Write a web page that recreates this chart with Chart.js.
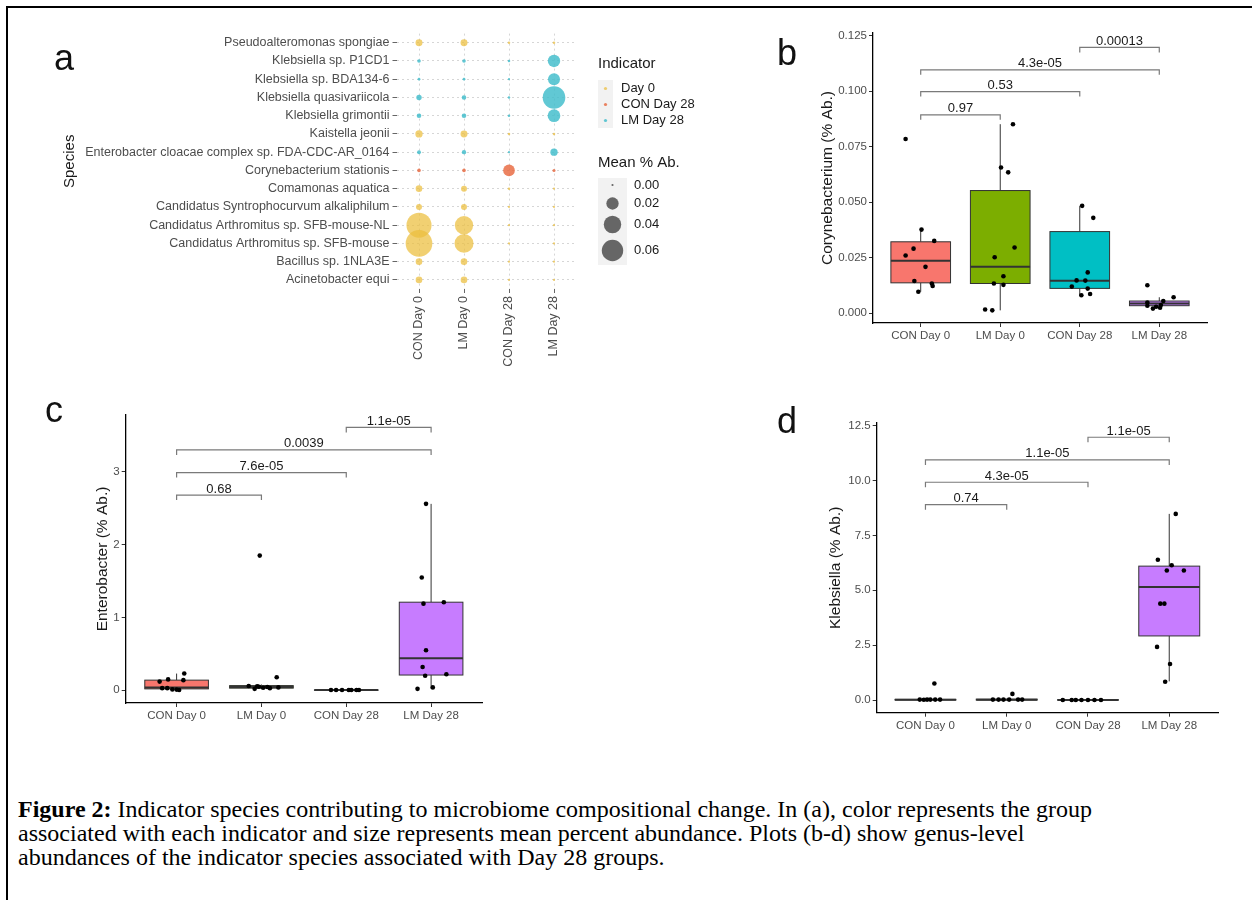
<!DOCTYPE html>
<html>
<head>
<meta charset="utf-8">
<script src="https://cdn.jsdelivr.net/npm/chart.js@4.4.1/dist/chart.umd.min.js"></script>
<style>
  html, body { margin: 0; padding: 0; background: #fff; }
  #page { position: relative; width: 1252px; height: 900px; overflow: hidden; background: #fff; }
  #frame { position: absolute; left: 6px; top: 6px; width: 1250px; height: 900px; border-top: 2px solid #000; border-left: 2px solid #000; }
  .wrap { position: absolute; }
  .tag { position: absolute; font-family: "Liberation Sans", Arial, sans-serif; font-size: 36px; line-height: 1; color: #111; }
  #caption { position: absolute; left: 18px; top: 797px; font-family: "Liberation Serif", "Times New Roman", serif; font-size: 24px; line-height: 24px; color: #000; white-space: nowrap; }
</style>
</head>
<body>
<div id="page">
  <div id="frame"></div>
  <div class="wrap" style="left:10px;top:10px;width:700px;height:370px"><canvas id="chartA"></canvas></div>
  <div class="wrap" style="left:760px;top:15px;width:470px;height:345px"><canvas id="chartB"></canvas></div>
  <div class="wrap" style="left:30px;top:395px;width:470px;height:335px"><canvas id="chartC"></canvas></div>
  <div class="wrap" style="left:760px;top:395px;width:470px;height:345px"><canvas id="chartD"></canvas></div>
  <div class="tag" style="left:54px;top:40px">a</div>
  <div class="tag" style="left:777px;top:35px">b</div>
  <div class="tag" style="left:45px;top:392px">c</div>
  <div class="tag" style="left:777px;top:403px">d</div>
  <div id="caption"><b>Figure 2:</b> Indicator species contributing to microbiome compositional change. In (a), color represents the group<br>associated with each indicator and size represents mean percent abundance. Plots (b-d) show genus-level<br>abundances of the indicator species associated with Day 28 groups.</div>
</div>
<script>
// ---- panel a: indicator species ----
const sampleGroups = ['CON Day 0', 'LM Day 0', 'CON Day 28', 'LM Day 28'];
const species = [
  'Pseudoalteromonas spongiae', 'Klebsiella sp. P1CD1', 'Klebsiella sp. BDA134-6',
  'Klebsiella quasivariicola', 'Klebsiella grimontii', 'Kaistella jeonii',
  'Enterobacter cloacae complex sp. FDA-CDC-AR_0164', 'Corynebacterium stationis',
  'Comamonas aquatica', 'Candidatus Syntrophocurvum alkaliphilum',
  'Candidatus Arthromitus sp. SFB-mouse-NL', 'Candidatus Arthromitus sp. SFB-mouse',
  'Bacillus sp. 1NLA3E', 'Acinetobacter equi'
];
const indicators = ['Day 0', 'CON Day 28', 'LM Day 28'];
const speciesIndicator = ['Day 0', 'LM Day 28', 'LM Day 28', 'LM Day 28', 'LM Day 28', 'Day 0',
  'LM Day 28', 'CON Day 28', 'Day 0', 'Day 0', 'Day 0', 'Day 0', 'Day 0', 'Day 0'];
const abConDay0 = [0.0064, 0.0017, 0.0010, 0.0038, 0.0028, 0.0070, 0.0020, 0.0017, 0.0057, 0.0047, 0.082, 0.093, 0.0057, 0.0057];
const abLmDay0 = [0.0064, 0.0017, 0.0010, 0.0028, 0.0028, 0.0064, 0.0025, 0.0017, 0.0047, 0.0047, 0.044, 0.047, 0.0057, 0.0057];
const abConDay28 = [0.0008, 0.0008, 0.0006, 0.0008, 0.0008, 0.0008, 0.0006, 0.018, 0.0008, 0.0006, 0.0006, 0.0006, 0.0006, 0.0006];
const abLmDay28 = [0.0008, 0.020, 0.019, 0.067, 0.021, 0.0008, 0.0070, 0.0012, 0.0006, 0.0006, 0.0006, 0.0006, 0.0006, 0.0006];
const sizeBreaks = [0.00, 0.02, 0.04, 0.06];

// ---- panels b-d: genus abundance per group ----
const groups = ['CON Day 0', 'LM Day 0', 'CON Day 28', 'LM Day 28'];

const coryValues = [
  [0.0784, 0.0376, 0.0325, 0.0290, 0.0259, 0.0208, 0.0144, 0.0133, 0.0122, 0.0096],
  [0.0851, 0.0656, 0.0634, 0.0295, 0.0251, 0.0166, 0.0133, 0.0127, 0.0016, 0.0012],
  [0.0483, 0.0429, 0.0183, 0.0147, 0.0146, 0.0119, 0.0110, 0.0086, 0.0080],
  [0.0125, 0.0071, 0.0054, 0.0047, 0.0036, 0.0033, 0.0028, 0.0020, 0.0024]
];
const coryJitter = [
  [-0.19, 0.01, 0.17, -0.09, -0.19, 0.06, -0.08, 0.14, 0.15, -0.03],
  [0.16, 0.01, 0.10, 0.18, -0.07, 0.04, -0.08, 0.04, -0.19, -0.10],
  [0.03, 0.17, 0.10, -0.04, 0.07, -0.10, 0.10, 0.13, 0.02],
  [-0.15, 0.18, 0.05, -0.15, 0.02, -0.15, -0.04, -0.08, 0.01]
];
const coryQ1 = [0.0136, 0.0133, 0.0111, 0.0033];
const coryMedian = [0.0235, 0.0208, 0.0145, 0.0043];
const coryQ3 = [0.0321, 0.0552, 0.0367, 0.0054];
const coryLow = [0.0096, 0.0012, 0.0080, 0.0020];
const coryHigh = [0.0376, 0.0851, 0.0483, 0.0071];
const coryTicks = [0, 0.025, 0.05, 0.075, 0.1, 0.125];
const coryTests = [[1, 2, '0.97', 0.0893], [1, 3, '0.53', 0.0998], [1, 4, '4.3e-05', 0.1096], [3, 4, '0.00013', 0.1197]];

const enteroValues = [
  [0.23, 0.15, 0.14, 0.12, 0.03, 0.03, 0.013, 0.004, 0.01],
  [1.85, 0.18, 0.06, 0.055, 0.05, 0.045, 0.04, 0.035, 0.03, 0.02],
  [0.005, 0.005, 0.005, 0.005, 0.005, 0.005, 0.005],
  [2.56, 1.55, 1.19, 1.21, 0.55, 0.32, 0.20, 0.22, 0.02, 0.04]
];
const enteroJitter = [
  [0.09, -0.10, 0.08, -0.20, -0.17, -0.11, -0.05, 0.03, 0.00],
  [-0.02, 0.18, -0.15, -0.05, -0.03, 0.07, 0.20, 0.02, 0.10, -0.08],
  [-0.18, -0.12, -0.05, 0.03, 0.06, 0.12, 0.15],
  [-0.06, -0.11, -0.09, 0.15, -0.06, -0.10, -0.07, 0.18, -0.16, 0.02]
];
const enteroQ1 = [0.02, 0.03, 0.0, 0.21];
const enteroMedian = [0.04, 0.045, 0.003, 0.44];
const enteroQ3 = [0.14, 0.065, 0.006, 1.21];
const enteroLow = [0.0, 0.02, 0.0, 0.02];
const enteroHigh = [0.23, 0.08, 0.008, 2.56];
const enteroTicks = [0, 1, 2, 3];
const enteroTests = [[1, 2, '0.68', 2.68], [1, 3, '7.6e-05', 2.99], [1, 4, '0.0039', 3.30], [3, 4, '1.1e-05', 3.61]];

const klebValues = [
  [0.75, 0.02, 0.02, 0.02, 0.02, 0.02, 0.01],
  [0.28, 0.02, 0.02, 0.02, 0.02, 0.02, 0.02],
  [0.0, 0.0, 0.0, 0.0, 0.0, 0.0, 0.0],
  [8.48, 6.39, 6.14, 5.9, 5.9, 4.39, 4.39, 2.42, 1.64, 0.83]
];
const klebJitter = [
  [0.11, -0.07, 0.02, 0.06, 0.12, 0.18, -0.02],
  [0.07, -0.17, -0.10, -0.04, 0.03, 0.14, 0.19],
  [-0.31, -0.20, -0.15, -0.08, 0.00, 0.08, 0.16],
  [0.08, -0.14, 0.03, -0.03, 0.18, -0.11, -0.06, -0.15, 0.01, -0.05]
];
const klebQ1 = [0.0, 0.0, 0.0, 2.92];
const klebMedian = [0.01, 0.01, 0.0, 5.15];
const klebQ3 = [0.03, 0.04, 0.01, 6.1];
const klebLow = [0.0, 0.0, 0.0, 0.85];
const klebHigh = [0.04, 0.05, 0.02, 8.48];
const klebTicks = [0, 2.5, 5, 7.5, 10, 12.5];
const klebTests = [[1, 2, '0.74', 8.9], [1, 3, '4.3e-05', 9.92], [1, 4, '1.1e-05', 10.94], [3, 4, '1.1e-05', 11.97]];

// ---- styles ----
const FONT = '"Liberation Sans", Arial, sans-serif';
const indicatorColors = { 'Day 0': 'rgba(236,190,60,0.72)', 'CON Day 28': 'rgba(232,104,62,0.82)', 'LM Day 28': 'rgba(62,188,202,0.82)' };
const groupColors = ['#F8766D', '#7CAE00', '#00BFC4', '#C77CFF'];
const radiusFor = v => Math.max(1.1, 43.7 * Math.sqrt(v));

Chart.defaults.font.family = FONT;
Chart.defaults.animation = false;
Chart.defaults.plugins.legend.display = false;
Chart.defaults.plugins.tooltip.enabled = false;

// ---------- panel a ----------
const columns = [abConDay0, abLmDay0, abConDay28, abLmDay28];
const bubbleSets = indicators.map(ind => {
  const pts = [];
  species.forEach((sp, i) => {
    if (speciesIndicator[i] !== ind) return;
    columns.forEach((col, c) => pts.push({ x: sampleGroups[c], y: sp, r: radiusFor(col[i]) }));
  });
  return { label: ind, data: pts, backgroundColor: indicatorColors[ind], borderWidth: 0 };
});

const bubbleLegend = {
  id: 'bubbleLegend',
  afterDraw(chart) {
    const ctx = chart.ctx;
    ctx.save();
    ctx.textBaseline = 'middle';
    ctx.textAlign = 'left';
    ctx.fillStyle = '#1a1a1a';
    ctx.font = '15px ' + FONT;
    ctx.fillText('Indicator', 588, 54);
    ctx.fillStyle = '#f2f2f2';
    ctx.fillRect(588, 70, 15, 48);
    indicators.forEach((ind, i) => {
      const yy = 78.5 + i * 16;
      ctx.fillStyle = indicatorColors[ind];
      ctx.beginPath(); ctx.arc(595.5, yy, 1.6, 0, Math.PI * 2); ctx.fill();
      ctx.fillStyle = '#1a1a1a';
      ctx.font = '13px ' + FONT;
      ctx.fillText(ind, 611, yy);
    });
    ctx.font = '15px ' + FONT;
    ctx.fillText('Mean % Ab.', 588, 153);
    ctx.fillStyle = '#f2f2f2';
    ctx.fillRect(588, 168, 29, 87);
    const ys = [175, 193.5, 214.5, 240.5];
    sizeBreaks.forEach((v, i) => {
      ctx.fillStyle = '#666';
      ctx.beginPath(); ctx.arc(602.5, ys[i], radiusFor(v), 0, Math.PI * 2); ctx.fill();
      ctx.fillStyle = '#1a1a1a';
      ctx.font = '13px ' + FONT;
      ctx.fillText(v.toFixed(2), 624, ys[i]);
    });
    ctx.restore();
  }
};

new Chart(document.getElementById('chartA'), {
  type: 'bubble',
  data: { datasets: bubbleSets },
  options: {
    responsive: true,
    maintainAspectRatio: false,
    layout: { padding: { top: 23.6, right: 133.5, left: 0, bottom: 0 } },
    scales: {
      x: {
        type: 'category', labels: sampleGroups, offset: true,
        grid: { color: '#d6d6d6', tickColor: '#666', tickLength: 4, offset: false },
        border: { display: false, dash: [2, 3] },
        ticks: { color: '#4d4d4d', font: { size: 12.5 }, minRotation: 90, maxRotation: 90, padding: 3, autoSkip: false },
        afterFit: s => { s.height = 91; }
      },
      y: {
        type: 'category', labels: species, offset: true,
        grid: { color: '#d6d6d6', tickColor: '#666', tickLength: 4, offset: false },
        border: { display: false, dash: [2, 3] },
        ticks: { color: '#4d4d4d', font: { size: 12.5 }, padding: 3, autoSkip: false },
        title: { display: true, text: 'Species', color: '#1a1a1a', font: { size: 15 }, padding: { top: 51 } },
        afterFit: s => { s.width = 386.5; }
      }
    }
  },
  plugins: [bubbleLegend]
});

// ---------- box plots ----------
const boxPlugin = {
  id: 'boxes',
  beforeDatasetsDraw(chart, args, o) {
    const { ctx, scales: { x, y } } = chart;
    ctx.save();
    o.q1.forEach((q1, i) => {
      const xc = x.getPixelForValue(i + 1);
      const half = x.getPixelForValue(i + 1.375) - xc;
      ctx.strokeStyle = '#333';
      ctx.lineWidth = 1;
      ctx.beginPath();
      ctx.moveTo(xc, y.getPixelForValue(o.low[i])); ctx.lineTo(xc, y.getPixelForValue(q1));
      ctx.moveTo(xc, y.getPixelForValue(o.q3[i])); ctx.lineTo(xc, y.getPixelForValue(o.high[i]));
      ctx.stroke();
      const top = y.getPixelForValue(o.q3[i]);
      const bot = y.getPixelForValue(q1);
      ctx.fillStyle = groupColors[i];
      ctx.fillRect(xc - half, top, half * 2, bot - top);
      ctx.strokeRect(xc - half, top, half * 2, bot - top);
      ctx.lineWidth = 2;
      ctx.beginPath();
      const m = y.getPixelForValue(o.median[i]);
      ctx.moveTo(xc - half, m); ctx.lineTo(xc + half, m);
      ctx.stroke();
    });
    ctx.restore();
  },
  afterDatasetsDraw(chart, args, o) {
    const { ctx, scales: { x, y } } = chart;
    ctx.save();
    o.tests.forEach(([a, b, label, v]) => {
      const x1 = x.getPixelForValue(a), x2 = x.getPixelForValue(b), yy = y.getPixelForValue(v);
      ctx.strokeStyle = '#7a7a7a';
      ctx.lineWidth = 1.2;
      ctx.beginPath();
      ctx.moveTo(x1, yy + 5); ctx.lineTo(x1, yy); ctx.lineTo(x2, yy); ctx.lineTo(x2, yy + 5);
      ctx.stroke();
      ctx.fillStyle = '#1a1a1a';
      ctx.font = '13px ' + FONT;
      ctx.textAlign = 'center';
      ctx.textBaseline = 'alphabetic';
      ctx.fillText(label, (x1 + x2) / 2, yy - 2.5);
    });
    ctx.restore();
  }
};

function boxChart(id, p) {
  const pts = [];
  p.values.forEach((arr, i) => arr.forEach((v, j) => pts.push({ x: i + 1 + p.jitter[i][j], y: v })));
  return new Chart(document.getElementById(id), {
    type: 'scatter',
    data: { datasets: [{ data: pts, backgroundColor: '#000', borderWidth: 0, pointRadius: 2.3 }] },
    options: {
      responsive: true,
      maintainAspectRatio: false,
      layout: { padding: { top: p.padTop, right: p.padRight, left: 0, bottom: 0 } },
      scales: {
        x: {
          type: 'linear', min: 0.4, max: 4.6,
          grid: { drawOnChartArea: false, tickLength: 4, tickColor: '#333' },
          border: { display: true, color: '#000', width: 1.3 },
          ticks: { color: '#4d4d4d', font: { size: 11.5 }, padding: 2, callback: v => groups[v - 1] },
          afterBuildTicks: s => { s.ticks = groups.map((g, i) => ({ value: i + 1 })); },
          afterFit: s => { s.height = p.xHeight; }
        },
        y: {
          type: 'linear', min: p.yMin, max: p.yMax,
          grid: { drawOnChartArea: false, tickLength: 4, tickColor: '#333' },
          border: { display: true, color: '#000', width: 1.3 },
          ticks: { color: '#4d4d4d', font: { size: 11.5 }, padding: 2, callback: v => v.toFixed(p.digits) },
          afterBuildTicks: s => { s.ticks = p.ticks.map(v => ({ value: v })); },
          title: { display: true, text: p.title, color: '#1a1a1a', font: { size: 15.5 }, padding: { top: p.titlePad } },
          afterFit: s => { s.width = p.yWidth; }
        }
      },
      plugins: {
        boxes: { q1: p.q1, median: p.median, q3: p.q3, low: p.low, high: p.high, tests: p.tests }
      }
    },
    plugins: [boxPlugin]
  });
}

boxChart('chartB', {
  values: coryValues, jitter: coryJitter, q1: coryQ1, median: coryMedian, q3: coryQ3, low: coryLow, high: coryHigh,
  tests: coryTests, ticks: coryTicks, digits: 3, yMin: -0.0045, yMax: 0.1262,
  title: 'Corynebacterium (% Ab.)', titlePad: 58, yWidth: 113, xHeight: 37, padTop: 18, padRight: 23
});
boxChart('chartC', {
  values: enteroValues, jitter: enteroJitter, q1: enteroQ1, median: enteroMedian, q3: enteroQ3, low: enteroLow, high: enteroHigh,
  tests: enteroTests, ticks: enteroTicks, digits: 0, yMin: -0.174, yMax: 3.78,
  title: 'Enterobacter (% Ab.)', titlePad: 63, yWidth: 95.7, xHeight: 27, padTop: 20, padRight: 18
});
boxChart('chartD', {
  values: klebValues, jitter: klebJitter, q1: klebQ1, median: klebMedian, q3: klebQ3, low: klebLow, high: klebHigh,
  tests: klebTests, ticks: klebTicks, digits: 1, yMin: -0.577, yMax: 12.62,
  title: 'Klebsiella (% Ab.)', titlePad: 66, yWidth: 116.7, xHeight: 27.3, padTop: 28, padRight: 12
});
</script>
</body>
</html>
